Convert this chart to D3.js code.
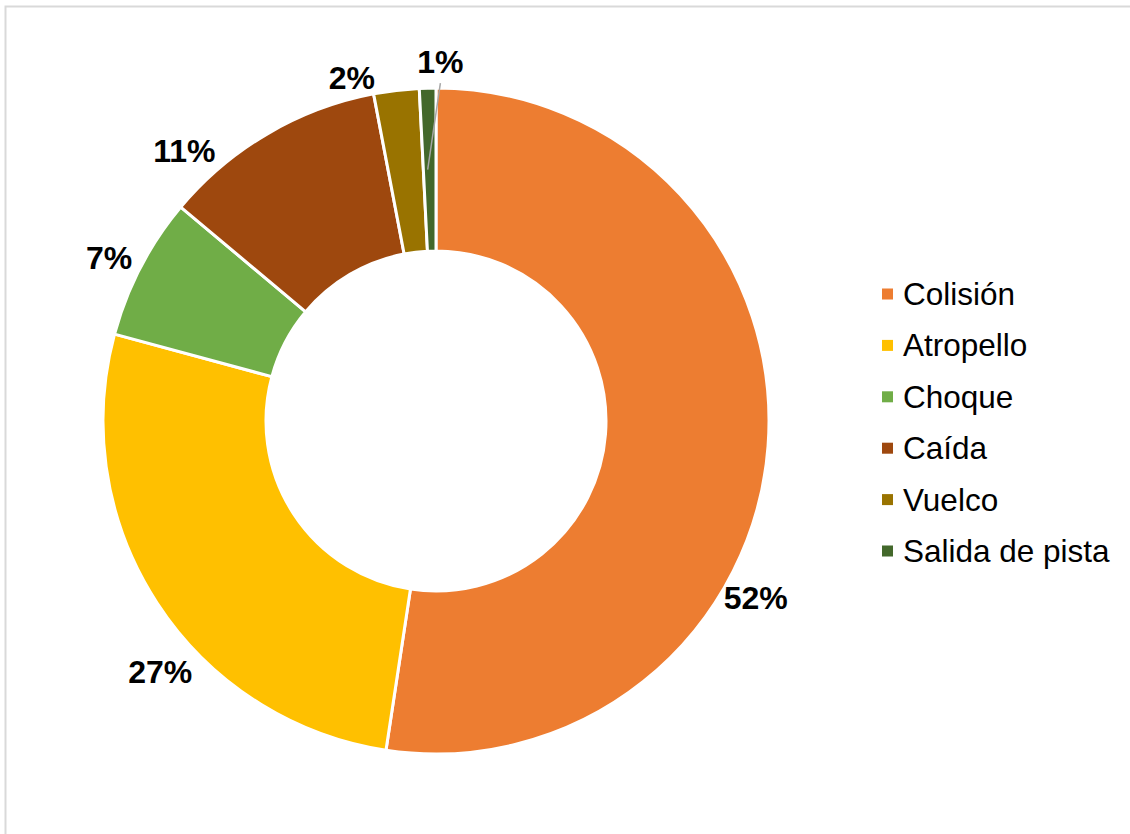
<!DOCTYPE html>
<html>
<head>
	<meta charset="UTF-8">
	<title>donut</title>
	<style>
html, body {margin:0;padding:0;background:#fff;}
text {font-family: "Liberation Sans", Arial, sans-serif; fill:#000;}
.lbl {font-weight: bold; font-size: 32px;}
.leg {font-size: 31.5px;}
	</style>
	<script src="https://cdnjs.cloudflare.com/ajax/libs/d3/7.8.5/d3.min.js"></script>
</head>
<body>
<script>
// data
const categories = ['Colisión', 'Atropello', 'Choque', 'Caída', 'Vuelco', 'Salida de pista'];
const values = [52.4, 26.8, 6.9, 10.9, 2.2, 0.8];
const colors = ['#ED7D31', '#FFC000', '#70AD47', '#9E480E', '#997300', '#43682B'];

// label placement (degrees clockwise from top, fraction of outer radius)
const labelAngles = [119, 227.7, 296.5, 317, 346.2, 0.7];
const labelRadii = [1.098, 1.12, 1.097, 1.108, 1.06, 1.078];

const W = 1130, H = 834;
const cx = 436, cy = 421, R = 333, r0 = 170;

const svg = d3.select('body').append('svg').attr('width', W).attr('height', H);

svg.append('rect')
	.attr('x', 5.5).attr('y', 6.5)
	.attr('width', W + 20).attr('height', H + 20)
	.attr('fill', 'none').attr('stroke', '#d9d9d9').attr('stroke-width', 2);

const g = svg.append('g').attr('transform', `translate(${cx},${cy})`);

const pie = d3.pie().sort(null).value(d => d);
const arcs = pie(values);
const arc = d3.arc().innerRadius(r0).outerRadius(R);
const total = d3.sum(values);
const fmt = d3.format('.0%');

g.selectAll('path').data(arcs).enter().append('path')
	.attr('d', arc)
	.attr('fill', (d, i) => colors[i])
	.attr('stroke', '#fff')
	.attr('stroke-width', 3)
	.attr('stroke-linejoin', 'round');

const polar = (deg, rad) => {
	const a = deg * Math.PI / 180;
	return [Math.sin(a) * rad, -Math.cos(a) * rad];
};

// leader line for the smallest slice
const last = arcs.length - 1;
const lp = polar(labelAngles[last], R * labelRadii[last]);
const c = arc.centroid(arcs[last]);
g.append('line')
	.attr('x1', lp[0]).attr('y1', lp[1] + 21)
	.attr('x2', c[0] - 2).attr('y2', c[1])
	.attr('stroke', '#a6a6a6').attr('stroke-width', 1.5);

g.selectAll('text.lbl').data(arcs).enter().append('text')
	.attr('class', 'lbl')
	.attr('text-anchor', 'middle')
	.attr('dominant-baseline', 'central')
	.attr('x', (d, i) => polar(labelAngles[i], R * labelRadii[i])[0])
	.attr('y', (d, i) => polar(labelAngles[i], R * labelRadii[i])[1])
	.text(d => fmt(d.value / total));

// legend
const ly = d3.scalePoint().domain(categories).range([294, 551]);
const leg = svg.append('g').selectAll('g').data(categories).enter().append('g')
	.attr('transform', d => `translate(882,${ly(d)})`);
leg.append('rect')
	.attr('x', 0).attr('y', -5.5).attr('width', 11).attr('height', 11)
	.attr('fill', (d, i) => colors[i]);
leg.append('text')
	.attr('class', 'leg')
	.attr('x', 21).attr('y', 0)
	.attr('dominant-baseline', 'central')
	.text(d => d);
</script>
</body>
</html>
